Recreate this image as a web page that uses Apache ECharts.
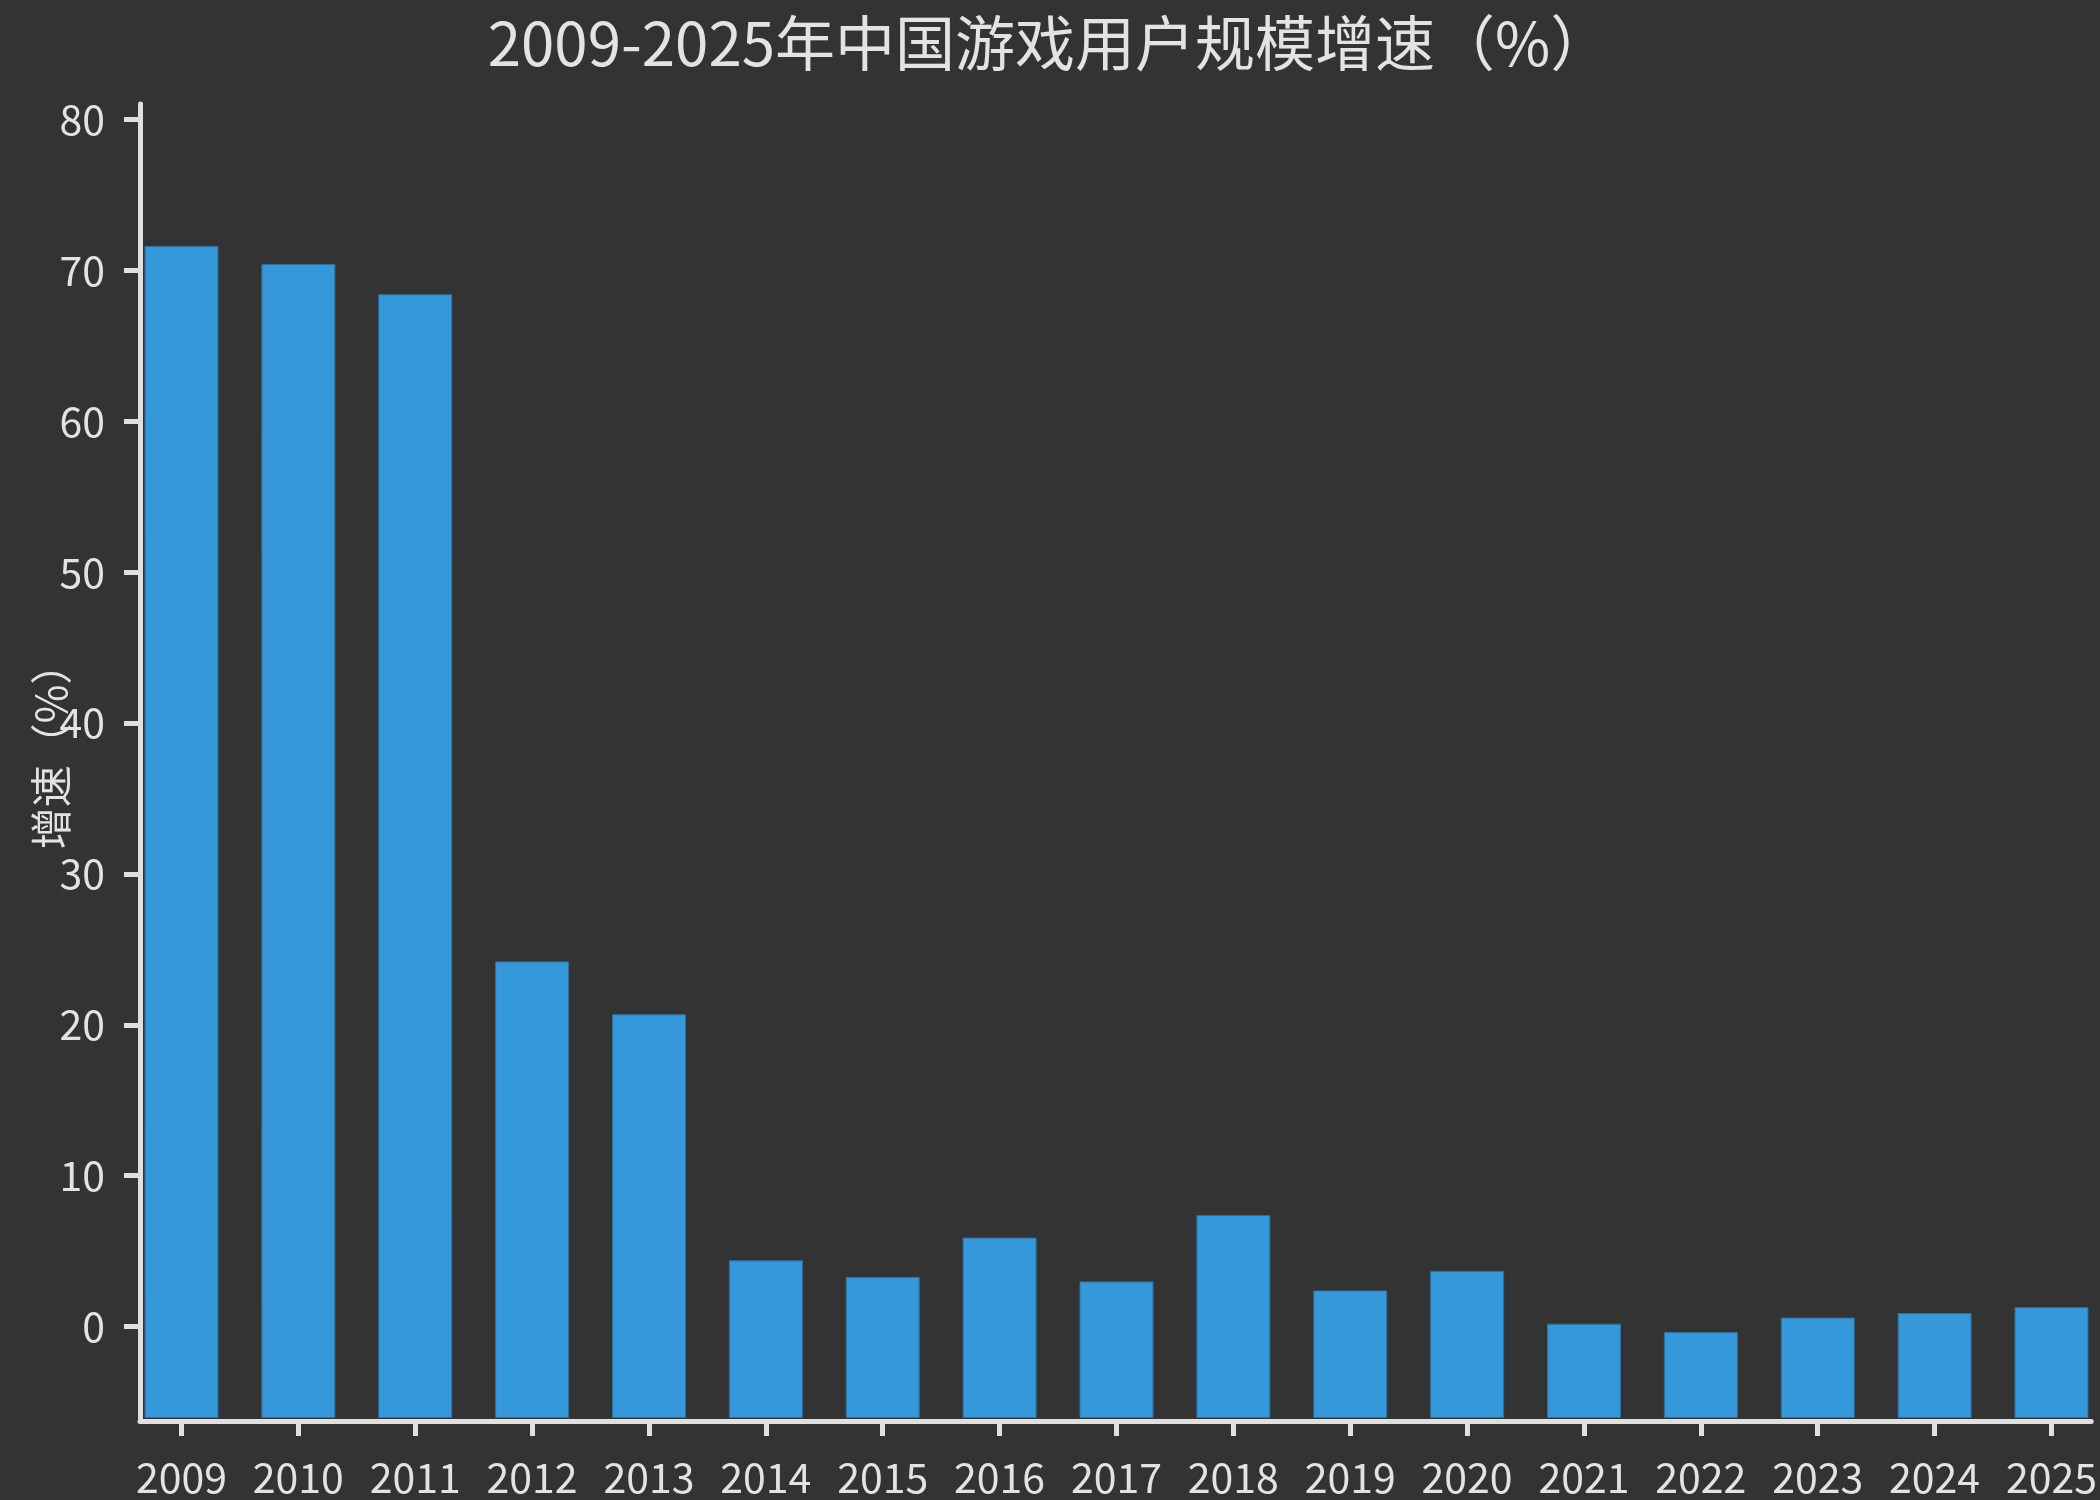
<!DOCTYPE html>
<html>
<head>
<meta charset="utf-8">
<script src="https://cdn.jsdelivr.net/npm/echarts@6/dist/echarts.min.js"></script>
<style>
  html, body { margin: 0; padding: 0; background: #333333; }
  #main { width: 2100px; height: 1500px; }
</style>
</head>
<body>
<div id="main"></div>
<script>
// 年份与增速（%）
var years = [2009, 2010, 2011, 2012, 2013, 2014, 2015, 2016, 2017, 2018, 2019, 2020, 2021, 2022, 2023, 2024, 2025];
var growth = [71.6, 70.4, 68.4, 24.2, 20.7, 4.4, 3.3, 5.9, 3.0, 7.4, 2.4, 3.7, 0.2, -0.35, 0.6, 0.9, 1.3];
var yTicks = [0, 10, 20, 30, 40, 50, 60, 70, 80];

var font = 'Noto Sans CJK SC';
var textColor = '#e3e3e3';
var lineColor = '#e0e0e0';

var myChart = echarts.init(document.getElementById('main'));
var option = {
  backgroundColor: '#333333',
  title: {
    text: '2009-2025年中国游戏用户规模增速（%）',
    left: 1044,
    top: 8,
    textAlign: 'center',
    textStyle: { color: textColor, fontSize: 60, fontWeight: 'normal', fontFamily: font }
  },
  grid: { left: 140, right: 0, top: 104, bottom: 82 },
  xAxis: {
    type: 'value',
    min: 2008.645,
    max: 2025.34,
    offset: 3,
    splitLine: { show: false },
    axisLine: { show: true, onZero: false, lineStyle: { color: lineColor, width: 5 } },
    axisTick: { show: true, customValues: years, length: 15, lineStyle: { color: lineColor, width: 5 } },
    axisLabel: {
      customValues: years,
      margin: 36,
      color: textColor,
      fontSize: 41,
      fontFamily: font,
      formatter: function (v) { return String(v); }
    }
  },
  yAxis: {
    type: 'value',
    min: -6.05,
    max: 81,
    startValue: -6.05,
    name: '增速（%）',
    nameLocation: 'middle',
    nameGap: 68,
    nameMoveOverlap: false,
    nameTextStyle: { color: textColor, fontSize: 42, fontFamily: font, padding: [0, 0, 0, 30] },
    splitLine: { show: false },
    axisLine: { show: true, onZero: false, lineStyle: { color: lineColor, width: 5 } },
    axisTick: { show: true, customValues: yTicks, length: 16, lineStyle: { color: lineColor, width: 5 } },
    axisLabel: {
      customValues: yTicks,
      margin: 35,
      color: textColor,
      fontSize: 41,
      fontFamily: font
    }
  },
  series: [
    {
      type: 'bar',
      barWidth: 74,
      data: years.map(function (y, i) { return [y, growth[i]]; }),
      itemStyle: { color: '#3498db', borderColor: '#2d6f9c', borderWidth: 1 }
    }
  ]
};

myChart.setOption(option);
</script>
</body>
</html>
